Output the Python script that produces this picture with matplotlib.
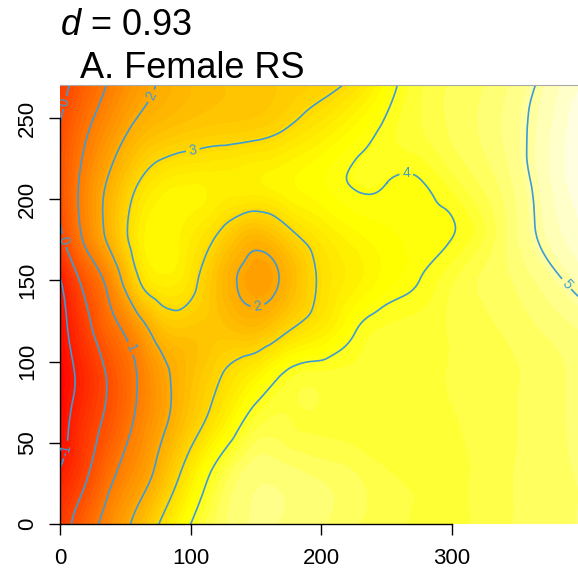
import colorsys

import matplotlib
matplotlib.use('Agg')
import matplotlib.pyplot as plt
import matplotlib.tri as mtri
from matplotlib.colors import ListedColormap, BoundaryNorm
import numpy as np

plt.rcParams['font.family'] = ['Liberation Sans', 'DejaVu Sans']
plt.rcParams['mathtext.fontset'] = 'custom'
plt.rcParams['mathtext.it'] = 'Liberation Sans:italic'
plt.rcParams['mathtext.rm'] = 'Liberation Sans'

# surface: rows are y, columns are x
x_vals = [0, 20, 40, 60, 80, 100, 125, 150, 175, 200, 225, 250, 275, 300, 340, 380, 400]
y_vals = [0, 30, 60, 90, 120, 150, 180, 210, 240, 270]
z_rows = [
    [-0.40, 0.55, 1.45, 2.25, 3.20, 4.00, 4.60, 4.80, 4.75, 4.65, 4.50, 4.40, 4.30, 4.30, 4.45, 4.60, 4.65],
    [-0.90, -0.08, 0.90, 1.60, 2.45, 3.40, 4.35, 4.75, 4.70, 4.60, 4.50, 4.35, 4.30, 4.30, 4.45, 4.60, 4.65],
    [-1.35, -0.40, 0.35, 1.20, 1.95, 2.70, 3.55, 4.30, 4.35, 4.30, 4.25, 4.20, 4.20, 4.30, 4.45, 4.60, 4.70],
    [-1.45, -0.65, 0.20, 1.05, 1.85, 2.45, 3.05, 3.60, 4.15, 4.25, 4.22, 4.20, 4.25, 4.35, 4.45, 4.60, 4.70],
    [-1.30, -0.25, 0.75, 1.60, 2.50, 2.60, 2.55, 2.40, 2.95, 3.40, 3.95, 4.20, 4.25, 4.35, 4.50, 4.70, 4.80],
    [-1.05, 0.30, 1.45, 2.95, 3.50, 3.20, 2.30, 1.80, 2.25, 3.10, 3.50, 3.80, 4.00, 4.30, 4.60, 4.95, 5.15],
    [-0.10, 1.25, 2.35, 3.40, 3.70, 3.45, 2.90, 2.40, 2.90, 3.40, 3.70, 3.85, 3.90, 3.98, 4.60, 5.20, 5.40],
    [0.15, 1.30, 2.20, 3.00, 3.45, 3.55, 3.50, 3.55, 3.70, 3.85, 4.02, 4.00, 3.97, 4.25, 4.70, 5.30, 5.50],
    [0.05, 0.95, 1.65, 2.25, 2.55, 2.70, 2.80, 2.88, 3.12, 3.45, 3.80, 4.10, 4.30, 4.50, 4.80, 5.30, 5.55],
    [-0.30, 0.50, 1.15, 1.70, 2.12, 2.35, 2.50, 2.60, 2.70, 2.85, 3.15, 3.80, 4.30, 4.50, 4.75, 5.20, 5.40],
]
contour_levels = [-1, 0, 1, 2, 3, 4, 5]
label_spots = [(6, 259), (5, 175), (3, 46), (47, 106), (69, 264),
               (101, 233), (151, 135), (265, 212), (385, 146)]


def heat_colors(n):
    # same recipe as R's heat.colors()
    j = n // 4
    i = n - j
    cols = [colorsys.hsv_to_rgb(h, 1, 1) for h in np.linspace(0, 1 / 6, i)]
    cols += [colorsys.hsv_to_rgb(1 / 6, s, 1)
             for s in np.linspace(1 - 1 / (2 * j), 1 / (2 * j), j)]
    return cols


n_col = 48
z_min, z_max = -1.6, 5.7
cmap = ListedColormap(heat_colors(n_col))
breaks = np.linspace(z_min, z_max, n_col + 1)
norm = BoundaryNorm(breaks, n_col)

X, Y = np.meshgrid(x_vals, y_vals)
Z = np.array(z_rows)
tri = mtri.Triangulation(X.ravel(), Y.ravel())
interp = mtri.CubicTriInterpolator(tri, Z.ravel(), kind='min_E')
refiner = mtri.UniformTriRefiner(tri)
tri_f, z_f = refiner.refine_field(Z.ravel(), triinterpolator=interp, subdiv=4)

fig = plt.figure(figsize=(5.78, 5.77), dpi=100)
ax = fig.add_axes([60 / 578, 53 / 577, 518 / 578, 439 / 577])

ax.tricontourf(tri_f, np.clip(z_f, z_min, z_max - 1e-6), levels=breaks, cmap=cmap, norm=norm)
cs = ax.tricontour(tri_f, z_f, levels=contour_levels, colors='#3D9BD8',
                   linewidths=1.2, negative_linestyles='solid')
ax.clabel(cs, fmt='%d', fontsize=10, inline=True, inline_spacing=3, manual=label_spots)

ax.set_xlim(0, 396.3)
ax.set_ylim(0, 270.3)
ax.set_xticks([0, 100, 200, 300])
ax.set_yticks([0, 50, 100, 150, 200, 250])
ax.spines['bottom'].set_bounds(0, 300)
ax.spines['left'].set_bounds(0, 250)
ax.spines['right'].set_visible(False)
ax.spines['top'].set_color('#A8A8A8')
for side in ['bottom', 'left']:
    ax.spines[side].set_linewidth(1.0)
ax.tick_params(length=8, width=1.0, labelsize=16)
ax.tick_params(axis='x', pad=9)
ax.tick_params(axis='y', pad=8)
for lab in ax.get_yticklabels():
    lab.set_rotation(90)
    lab.set_va('center')

fig.text(60 / 578, 1 - 35 / 577, r'$d$ = 0.93', fontsize=26, va='baseline')
fig.text(80 / 578, 1 - 78 / 577, 'A. Female RS', fontsize=26, va='baseline')

fig.savefig('out.png', dpi=100)
